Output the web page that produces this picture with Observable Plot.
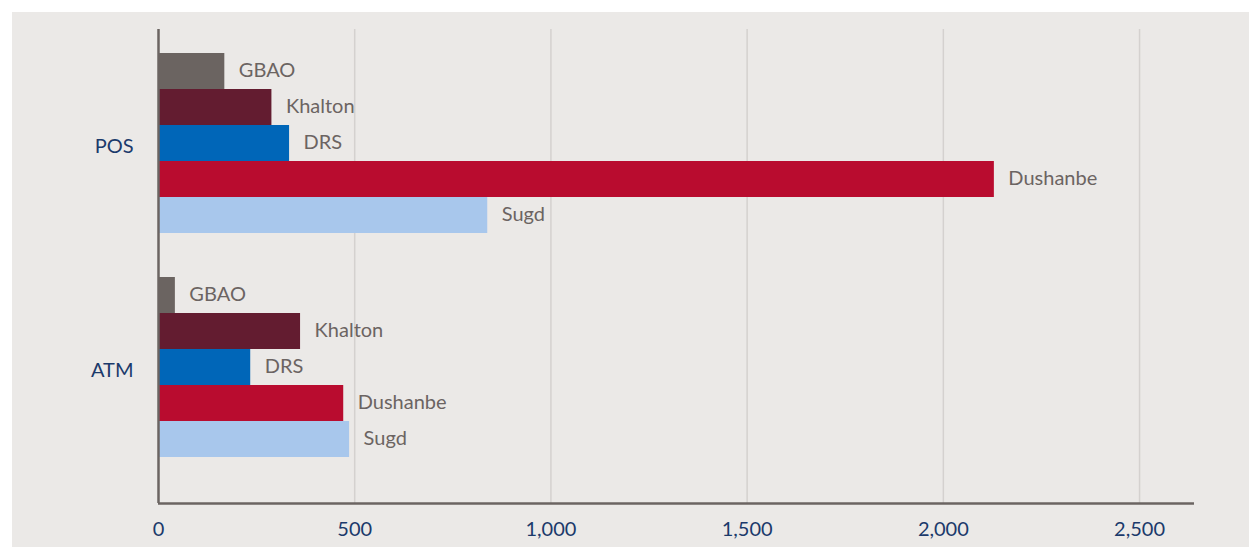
<!DOCTYPE html>
<html><head><meta charset="utf-8">
<script src="https://cdn.jsdelivr.net/npm/d3@7"></script>
<script src="https://cdn.jsdelivr.net/npm/@observablehq/plot@0.6"></script>
<style>
html,body{margin:0;padding:0;background:#fff;}
#chart{position:absolute;left:12px;top:12px;width:1237px;height:535px;background:#ebe9e7;}
#chart svg{position:absolute;left:0;top:0;}
</style></head><body><div id="chart"></div>
<script>
const channels = ["POS", "ATM"];
const regions = ["GBAO", "Khalton", "DRS", "Dushanbe", "Sugd"];
const posValues = [169, 289, 334, 2130, 839];
const atmValues = [43, 362, 235, 472, 487];
const xTicks = [0, 500, 1000, 1500, 2000, 2500];
const xTickLabels = ["0", "500", "1,000", "1,500", "2,000", "2,500"];
const regionColors = ["#6b6461", "#631c30", "#0066b8", "#b90c2f", "#a8c7ec"];

const seriesByChannel = {POS: posValues, ATM: atmValues};
const data = channels.flatMap(c => regions.map((r, i) => ({channel: c, region: r, value: seriesByChannel[c][i]})));

const common = {
  width: 1237,
  height: 535,
  marginLeft: 146,
  marginRight: 55,
  marginTop: 17,
  marginBottom: 44,
  style: {background: "transparent", fontFamily: "Lato, 'Open Sans', sans-serif", fontSize: "20px", overflow: "visible"},
  x: {domain: [0, 2640], axis: null}
};

// background layer: grid, axis lines, x tick labels
const back = Plot.plot({
  ...common,
  y: {domain: [0, 1], axis: null},
  marks: [
    Plot.ruleX(xTicks.slice(1), {stroke: "#d4d1cf", strokeWidth: 1.5, strokeOpacity: 1}),
    Plot.axisX({ticks: xTicks, tickFormat: (d, i) => xTickLabels[i], tickSize: 0, tickPadding: 18, fill: "#1b3a6b", fontSize: 20, label: null})
  ]
});

// foreground layer: bars & labels, faceted by channel
const front = Plot.plot({
  ...common,
  y: {domain: regions, padding: 0, axis: null},
  fy: {domain: channels, paddingInner: 0.1924, paddingOuter: 0.1496, align: 0.327, axis: null, label: null},
  color: {domain: regions, range: regionColors},
  marks: [
    Plot.barX(data, {x: "value", y: "region", fy: "channel", fill: "region"}),
    Plot.text(data, {x: "value", y: "region", fy: "channel", text: "region", textAnchor: "start", dx: 14, dy: -1, fill: "#6b6462", fontSize: 20}),
    Plot.axisFy({anchor: "left", tickSize: 0, tickPadding: 25, fill: "#1b3a6b", fontSize: 20, dy: 4, label: null})
  ]
});

// axis lines layer on top
const lines = Plot.plot({
  ...common,
  y: {domain: [0, 1], axis: null},
  marks: [
    Plot.ruleX([0], {stroke: "#6b6462", strokeWidth: 2.5}),
    Plot.ruleY([0], {stroke: "#6b6462", strokeWidth: 2.5})
  ]
});

const el = document.getElementById("chart");
el.appendChild(back);
el.appendChild(front);
el.appendChild(lines);
</script>
</body></html>
